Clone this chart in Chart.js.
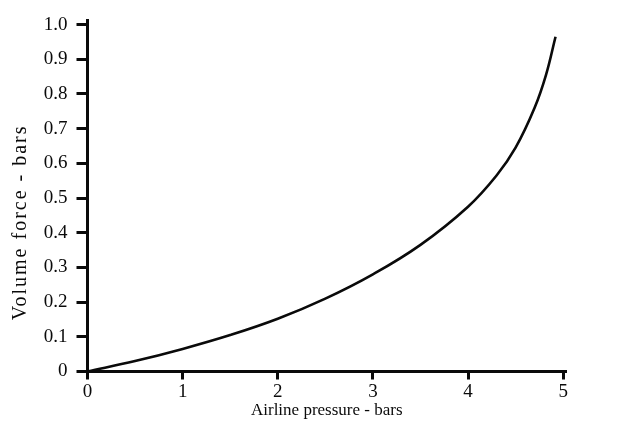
<!DOCTYPE html>
<html>
<head>
<meta charset="utf-8">
<script src="https://cdn.jsdelivr.net/npm/chart.js@4"></script>
<style>
  html, body { margin: 0; padding: 0; background: #fff; }
  #wrap { width: 620px; height: 423px; position: relative; }
</style>
</head>
<body>
<div id="wrap"><canvas id="chart"></canvas></div>
<script>
// Airline pressure (bars) vs volume force (bars)
const PRESSURE = [0, 0.5, 1, 1.5, 2, 2.5, 3, 3.5, 4, 4.3, 4.5, 4.7, 4.82, 4.92];
const FORCE    = [0, 0.03, 0.065, 0.105, 0.152, 0.21, 0.28, 0.365, 0.475, 0.565, 0.645, 0.76, 0.855, 0.965];

const X_TICKS = [0, 1, 2, 3, 4, 5];
const Y_TICKS = [0, 0.1, 0.2, 0.3, 0.4, 0.5, 0.6, 0.7, 0.8, 0.9, 1.0];

const X_TITLE = 'Airline pressure - bars';
const Y_TITLE = 'Volume force - bars';

const FONT = "'Liberation Serif', 'DejaVu Serif', serif";
const INK = '#0a0a0a';

const points = PRESSURE.map((p, i) => ({ x: p, y: FORCE[i] }));

// the y title in the scan runs much longer than the x one,
// so it is drawn here bigger and a bit spaced instead of as the scale title
const yTitlePlugin = {
  id: 'yTitle',
  afterDraw(chart) {
    const { ctx, chartArea } = chart;
    ctx.save();
    ctx.translate(21, chartArea.top + 202);
    ctx.rotate(-Math.PI / 2);
    ctx.font = `20px ${FONT}`;
    ctx.letterSpacing = '2px';
    ctx.fillStyle = INK;
    ctx.textAlign = 'center';
    ctx.textBaseline = 'middle';
    ctx.fillText(Y_TITLE, 0, 0);
    ctx.restore();
  }
};

new Chart(document.getElementById('chart'), {
  type: 'line',
  data: {
    datasets: [{
      data: points,
      borderColor: INK,
      borderWidth: 2.6,
      pointRadius: 0,
      fill: false,
      tension: 0.4,
    }]
  },
  options: {
    responsive: true,
    maintainAspectRatio: false,
    animation: false,
    layout: { padding: { top: 20, right: 54, bottom: 0, left: 0 } },
    plugins: {
      legend: { display: false },
      tooltip: { enabled: false },
    },
    scales: {
      x: {
        type: 'linear',
        min: 0,
        max: 5.03,
        afterBuildTicks(scale) {
          scale.ticks = X_TICKS.map(v => ({ value: v }));
        },
        afterFit(scale) { scale.height = 51.5; },
        ticks: {
          color: INK,
          padding: 1,
          maxRotation: 0,
          font: { family: FONT, size: 19 },
        },
        grid: {
          drawOnChartArea: false,
          drawTicks: true,
          tickLength: 8,
          tickWidth: 3,
          tickColor: INK,
        },
        border: { color: INK, width: 3 },
        title: {
          display: true,
          text: X_TITLE,
          color: INK,
          padding: { top: 0, bottom: 2 },
          font: { family: FONT, size: 17 },
        },
      },
      y: {
        min: 0,
        max: 1.012,
        afterBuildTicks(scale) {
          scale.ticks = Y_TICKS.map(v => ({ value: v }));
        },
        afterFit(scale) { scale.width = 87.5; },
        ticks: {
          color: INK,
          padding: 9,
          font: { family: FONT, size: 19 },
          callback: v => (v === 0 ? '0' : v.toFixed(1)),
        },
        grid: {
          drawOnChartArea: false,
          drawTicks: true,
          tickLength: 11,
          tickWidth: 3,
          tickColor: INK,
        },
        border: { color: INK, width: 3 },
        title: { display: false },
      },
    },
  },
  plugins: [yTitlePlugin],
});
</script>
</body>
</html>
